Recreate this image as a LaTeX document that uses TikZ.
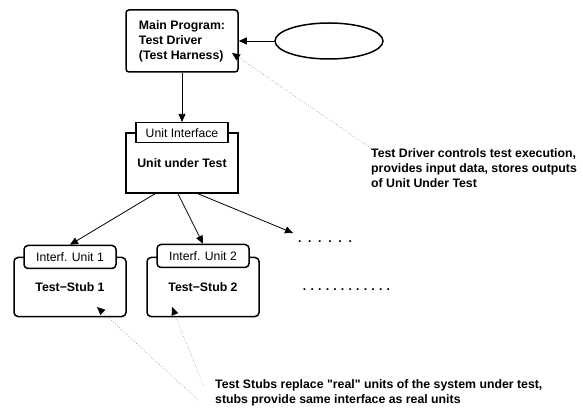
\documentclass[tikz,border=0pt]{standalone}
\usepackage{fontspec}
\setmainfont{Liberation Sans}
\usepackage{tikz}
\usetikzlibrary{arrows.meta,shapes.geometric,positioning}

\begin{document}
\begin{tikzpicture}[x=1pt,y=-1pt,
  box/.style={draw,line width=1.5pt,fill=white,inner sep=0pt},
  tab/.style={draw,line width=1.5pt,fill=white,inner sep=0pt,minimum height=20pt,font=\fontsize{12.2}{15}\selectfont},
  lbl/.style={font=\fontsize{12.3}{15}\selectfont\bfseries},
  con/.style={line width=0.8pt,-{Triangle[length=8pt,width=7pt]}},
  note/.style={gray,dotted,line width=0.6pt,-{Triangle[length=8pt,width=7pt,black]}}]
\useasboundingbox (0,0) rectangle (583,411);
% driver and input
\node[box,rounded corners=3pt,minimum width=112pt,minimum height=62pt,align=left,lbl] (drv) at (182,41) {Main Program:\\Test Driver\\(Test Harness)};
\node[draw,ellipse,line width=1.5pt,minimum width=108pt,minimum height=36pt] (ext) at (329,41) {};
% unit under test
\node[box,minimum width=112pt,minimum height=60pt,lbl] (uut) at (182,163) {Unit under Test};
\node[tab,minimum width=92pt] (uif) at (182,132.7) {Unit Interface};
% stubs
\node[box,rounded corners=4pt,minimum width=112pt,minimum height=59pt,lbl] (stubA) at (70,287) {Test−Stub 1};
\node[tab,rounded corners=4pt,minimum width=92pt,minimum height=23pt] (ifA) at (70,257) {Interf. Unit 1};
\node[box,rounded corners=4pt,minimum width=112pt,minimum height=59pt,lbl] (stubB) at (203,287) {Test−Stub 2};
\node[tab,rounded corners=4pt,minimum width=92pt,minimum height=23pt] (ifB) at (203,256) {Interf. Unit 2};
\node[lbl] (dotsA) at (325,242) {.\kern6.7pt.\kern6.7pt.\kern6.7pt.\kern6.7pt.\kern6.7pt.};
\node[lbl] (dotsB) at (346.5,290) {.\kern4.2pt.\kern4.2pt.\kern4.2pt.\kern4.2pt.\kern4.2pt.\kern4.2pt.\kern4.2pt.\kern4.2pt.\kern4.2pt.\kern4.2pt.\kern4.2pt.};
\coordinate (more) at (293,233);

\draw[con] (ext.west) -- (drv.east);
\draw[con] (drv) -- (uif);
\draw[con] ([xshift=-27pt]uut.south) -- (ifA.north);
\draw[con] ([xshift=-4pt]uut.south) -- (ifB.north);
\draw[con] ([xshift=16pt]uut.south) -- (more);

% notes
\node[lbl,anchor=west,align=left,inner sep=0pt] (drvnote) at (371,168) {Test Driver controls test execution,\\provides input data, stores outputs\\of Unit Under Test};
\node[lbl,anchor=west,align=left,inner sep=0pt] (stubnote) at (215,392.5) {Test Stubs replace \textquotedbl real\textquotedbl{} units of the system under test,\\stubs provide same interface as real units};
\coordinate (drvtip) at (232,53);
\coordinate (tipA) at (97,307);
\coordinate (tipB) at (172,307);
\draw[note] (drvnote.north west) -- (drvtip);
\draw[note] ([shift={(-17,7.5)}]stubnote.west) -- (tipA);
\draw[note] ([shift={(-12,-7.5)}]stubnote.west) -- (tipB);
\end{tikzpicture}
\end{document}
